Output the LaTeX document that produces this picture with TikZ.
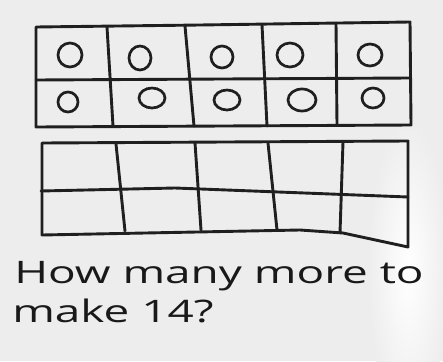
\documentclass[tikz,border=0pt]{standalone}
\usepackage{fontspec}
\setmainfont{Open Sans}
\usetikzlibrary{calc}

\begin{document}
\begin{tikzpicture}[x=1pt,y=-1pt,
 ink/.style={line width=2.9pt,line cap=round,line join=round,black!88},
 dot/.style={line width=2.7pt,black!88},
 hand/.style={anchor=base west,inner sep=0pt,black!90,xscale=1.48,
   font=\fontsize{31}{36}\selectfont}]
% board
\useasboundingbox (0,0) rectangle (443,361);
\clip (0,0) rectangle (443,361);
\fill[gray!14] (0,0) rectangle (443,361);
\shade[inner color=white,outer color=gray!14] (408,270) ellipse [x radius=40,y radius=150];
% top frame, full
\draw[ink] (36,27) -- (200,25) -- (410,22) -- (411,125) -- (36,127) -- cycle;
\draw[ink] (36,80) -- (410,78);
\draw[ink] (107,27) -- (113,126);
\draw[ink] (185,26) -- (194,126);
\draw[ink] (262,25) -- (267,126);
\draw[ink] (336,23) -- (337,125);
\foreach \cx/\cy/\rx/\ry in {70/55/12/12, 140/58/11/12, 222/57/11/11, 290/55/13/12, 370/55/12/11,
  68/102/10/10, 152/98/13/10, 227/100/13/10, 302/100/14/11, 373/98/11/10}
  \draw[dot] (\cx,\cy) ellipse [x radius=\rx,y radius=\ry];
% bottom frame, empty
\draw[ink] (42,143) -- (408,141) -- (408,247) -- (343,233) -- (300,230) -- (42,235) -- cycle;
\draw[ink] (41,191) -- (175,188) -- (408,197);
\draw[ink] (116,144) -- (125,231);
\draw[ink] (195,143) -- (201,230);
\draw[ink] (268,143) -- (277,230);
\draw[ink] (343,142) -- (340,233);
% question
\node[hand] (q1) at (14,283) {How many more to};
\node[hand] (q2) at (12,322) {make 14?};
\end{tikzpicture}
\end{document}
